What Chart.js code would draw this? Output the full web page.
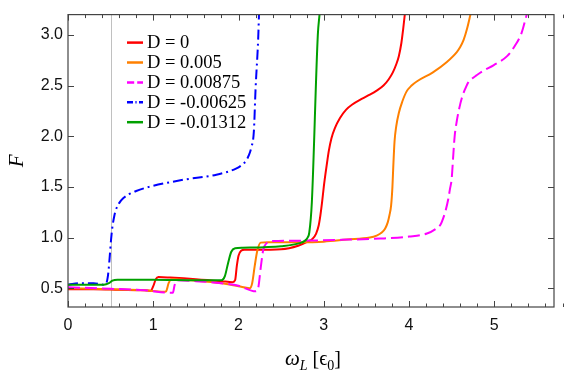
<!DOCTYPE html>
<html>
<head>
<meta charset="utf-8">
<script src="https://cdn.jsdelivr.net/npm/chart.js@4.4.1/dist/chart.umd.min.js"></script>
<style>
html,body{margin:0;padding:0;background:#fff;}
#wrap{width:564px;height:373px;position:relative;}
</style>
</head>
<body>
<div id="wrap"><canvas id="c" width="564" height="373"></canvas></div>
<script>
// ---- data ----
const seriesLabels = ["D = 0", "D = 0.005", "D = 0.00875", "D = -0.00625", "D = -0.01312"];

const redX = [0, 0.3, 0.6, 0.9, 0.97, 1.0, 1.03, 1.06, 1.2, 1.5, 1.8, 1.93, 1.96, 1.98, 2.0, 2.03, 2.07, 2.2, 2.5, 2.7, 2.81, 2.87, 2.91, 2.94, 2.96, 2.98, 3.0, 3.02, 3.04, 3.06, 3.09, 3.13, 3.19, 3.26, 3.33, 3.45, 3.54, 3.62, 3.70, 3.76, 3.81, 3.85, 3.88, 3.91, 3.93, 3.95];
const redY = [0.49, 0.49, 0.485, 0.48, 0.475, 0.52, 0.59, 0.61, 0.605, 0.59, 0.57, 0.56, 0.58, 0.72, 0.82, 0.87, 0.88, 0.88, 0.885, 0.92, 0.96, 0.99, 1.04, 1.12, 1.22, 1.35, 1.5, 1.63, 1.75, 1.86, 1.98, 2.08, 2.18, 2.26, 2.31, 2.37, 2.41, 2.45, 2.5, 2.56, 2.63, 2.71, 2.79, 2.92, 3.05, 3.2];

const orangeX = [0, 0.5, 0.9, 1.12, 1.15, 1.18, 1.21, 1.5, 1.8, 2.0, 2.13, 2.16, 2.19, 2.22, 2.26, 2.35, 2.7, 3.0, 3.27, 3.54, 3.62, 3.68, 3.72, 3.75, 3.77, 3.79, 3.805, 3.815, 3.83, 3.85, 3.88, 3.92, 3.97, 4.03, 4.09, 4.28, 4.44, 4.56, 4.60, 4.64, 4.68, 4.72];
const orangeY = [0.50, 0.49, 0.48, 0.465, 0.47, 0.55, 0.59, 0.575, 0.55, 0.52, 0.50, 0.55, 0.72, 0.87, 0.95, 0.955, 0.955, 0.96, 0.98, 1.0, 1.02, 1.05, 1.09, 1.15, 1.22, 1.32, 1.5, 1.7, 1.95, 2.1, 2.23, 2.34, 2.44, 2.5, 2.54, 2.63, 2.73, 2.83, 2.88, 2.95, 3.06, 3.2];

const magentaX = [0, 0.5, 0.9, 1.2, 1.23, 1.25, 1.28, 1.5, 1.8, 2.0, 2.2, 2.23, 2.26, 2.29, 2.33, 2.4, 2.8, 3.3, 3.66, 4.0, 4.21, 4.32, 4.37, 4.40, 4.43, 4.46, 4.48, 4.50, 4.52, 4.535, 4.56, 4.59, 4.62, 4.66, 4.70, 4.74, 4.79, 4.88, 4.99, 5.15, 5.24, 5.32, 5.38];
const magentaY = [0.51, 0.495, 0.48, 0.455, 0.455, 0.53, 0.58, 0.57, 0.55, 0.525, 0.47, 0.50, 0.70, 0.88, 0.945, 0.965, 0.97, 0.98, 0.99, 1.01, 1.04, 1.09, 1.13, 1.19, 1.27, 1.38, 1.48, 1.58, 1.83, 2.0, 2.15, 2.28, 2.38, 2.47, 2.54, 2.57, 2.6, 2.65, 2.7, 2.79, 2.89, 3.02, 3.2];

const blueX = [0, 0.15, 0.3, 0.42, 0.44, 0.46, 0.475, 0.49, 0.505, 0.52, 0.54, 0.56, 0.6, 0.65, 0.72, 0.8, 0.95, 1.35, 1.74, 1.97, 2.03, 2.09, 2.12, 2.15, 2.18, 2.20, 2.23, 2.24];
const blueY = [0.535, 0.55, 0.55, 0.535, 0.54, 0.58, 0.67, 0.82, 0.98, 1.10, 1.20, 1.27, 1.34, 1.39, 1.43, 1.46, 1.50, 1.57, 1.62, 1.68, 1.71, 1.76, 1.81, 1.89, 2.05, 2.47, 2.95, 3.2];

const greenX = [0, 0.2, 0.42, 0.48, 0.52, 0.58, 1.0, 1.5, 1.8, 1.84, 1.875, 1.915, 1.96, 2.05, 2.5, 2.72, 2.78, 2.81, 2.83, 2.86, 2.93, 2.95];
const greenY = [0.535, 0.535, 0.535, 0.55, 0.575, 0.585, 0.585, 0.58, 0.58, 0.62, 0.74, 0.86, 0.895, 0.9, 0.915, 0.945, 0.97, 1.0, 1.05, 1.35, 3.0, 3.2];

const xTickLabels = [0, 1, 2, 3, 4, 5];
const yTickLabels = [0.5, 1.0, 1.5, 2.0, 2.5, 3.0];
const xMinorStep = 0.2;
const xRange = [0, 5.7];
const yRange = [0.315, 3.2];
const markerLineX = 0.5;

const xTitleParts = ["ω", "L", "[", "ϵ", "0", "]"];
const yTitle = "F";

// ---- build datasets ----
function pts(xs, ys) { return xs.map((x, i) => ({x: x, y: ys[i]})); }
const styles = [
  {c: "#ff0000", dash: []},
  {c: "#ff8000", dash: []},
  {c: "#ff00ff", dash: [12, 5]},
  {c: "#0000ff", dash: [10, 4, 2, 4]},
  {c: "#00a000", dash: []}
];
const allData = [pts(redX, redY), pts(orangeX, orangeY), pts(magentaX, magentaY), pts(blueX, blueY), pts(greenX, greenY)];
const datasets = allData.map((d, i) => ({
  label: seriesLabels[i],
  data: d,
  borderColor: styles[i].c,
  backgroundColor: styles[i].c,
  borderDash: styles[i].dash,
  borderWidth: 2,
  pointRadius: 0,
  fill: false,
  cubicInterpolationMode: "monotone"
}));
const order = [4, 3, 2, 1, 0];
datasets.forEach((d, i) => { d.order = order[i]; });

const frameColor = "#444";

const decor = {
  id: "decor",
  beforeDatasetsDraw(chart) {
    const {ctx, chartArea: a, scales: {x}} = chart;
    ctx.save();
    ctx.strokeStyle = "#c0c0c0";
    ctx.lineWidth = 1;
    const px = Math.round(x.getPixelForValue(markerLineX)) + 0.5;
    ctx.beginPath(); ctx.moveTo(px, a.top); ctx.lineTo(px, a.bottom); ctx.stroke();
    ctx.restore();
  },
  afterDatasetsDraw(chart) {
    const {ctx, chartArea: a, scales: {x, y}} = chart;
    ctx.save();
    ctx.strokeStyle = frameColor;
    ctx.lineWidth = 1.2;
    ctx.strokeRect(a.left, a.top, a.right - a.left, a.bottom - a.top);
    ctx.lineWidth = 1;
    const nMinor = Math.round((xRange[1] - xRange[0]) / xMinorStep);
    for (let k = 0; k <= nMinor; k++) {
      const v = xRange[0] + k * xMinorStep;
      const major = xTickLabels.some(t => Math.abs(t - v) < 1e-6);
      const len = major ? 6 : 3.5;
      const p = Math.round(x.getPixelForValue(v)) + 0.5;
      ctx.beginPath();
      ctx.moveTo(p, a.bottom); ctx.lineTo(p, a.bottom - len);
      ctx.moveTo(p, a.top); ctx.lineTo(p, a.top + len);
      ctx.stroke();
    }
    yTickLabels.forEach(v => {
      const p = Math.round(y.getPixelForValue(v)) + 0.5;
      ctx.beginPath();
      ctx.moveTo(a.left, p); ctx.lineTo(a.left + 6, p);
      ctx.moveTo(a.right, p); ctx.lineTo(a.right - 6, p);
      ctx.stroke();
    });
    // legend
    const lx0 = a.left + 59, lx1 = a.left + 75, tx = a.left + 79;
    ctx.font = "18.5px 'Liberation Serif', 'Times New Roman', serif";
    ctx.textBaseline = "middle";
    ctx.textAlign = "left";
    chart.data.datasets.forEach((ds, i) => {
      const yy = a.top + 28 + i * 19.9;
      ctx.strokeStyle = ds.borderColor;
      ctx.lineWidth = 2.5;
      ctx.setLineDash(ds.borderDash && ds.borderDash.length ? ds.borderDash.map(v => v * 0.6) : []);
      ctx.beginPath(); ctx.moveTo(lx0, yy); ctx.lineTo(lx1, yy); ctx.stroke();
      ctx.setLineDash([]);
      ctx.fillStyle = "#000";
      ctx.fillText(ds.label, tx, yy + 1);
    });
    // x title with subscripts
    const big = "20px 'Liberation Serif', 'Times New Roman', serif";
    const bigI = "italic 21px 'Liberation Serif', 'Times New Roman', serif";
    const subI = "italic 14px 'Liberation Serif', 'Times New Roman', serif";
    const sub = "14px 'Liberation Serif', 'Times New Roman', serif";
    const pieces = [
      {t: xTitleParts[0], f: bigI, dy: 0},
      {t: xTitleParts[1], f: subI, dy: 5},
      {t: " ", f: big, dy: 0},
      {t: xTitleParts[2], f: big, dy: 0},
      {t: xTitleParts[3], f: big, dy: 0},
      {t: xTitleParts[4], f: sub, dy: 5},
      {t: xTitleParts[5], f: big, dy: 0}
    ];
    let total = 0;
    pieces.forEach(p => { ctx.font = p.f; p.w = ctx.measureText(p.t).width; total += p.w; });
    let cx = (a.left + a.right) / 2 - total / 2 + 2;
    const base = a.bottom + 58;
    ctx.textBaseline = "alphabetic";
    ctx.fillStyle = "#000";
    pieces.forEach(p => { ctx.font = p.f; ctx.fillText(p.t, cx, base + p.dy); cx += p.w; });
    // y title
    ctx.save();
    ctx.translate(a.left - 51, (a.top + a.bottom) / 2);
    ctx.rotate(-Math.PI / 2);
    ctx.font = "italic 21px 'Liberation Serif', 'Times New Roman', serif";
    ctx.textAlign = "center";
    ctx.textBaseline = "middle";
    ctx.fillText(yTitle, 0, 0);
    ctx.restore();
    ctx.restore();
  }
};

new Chart(document.getElementById("c"), {
  type: "line",
  data: {datasets: datasets},
  options: {
    responsive: false,
    animation: false,
    devicePixelRatio: 1,
    layout: {padding: {top: 7, right: 10, left: 0, bottom: 0}},
    plugins: {legend: {display: false}, tooltip: {enabled: false}},
    scales: {
      x: {
        type: "linear",
        min: xRange[0], max: xRange[1],
        grid: {display: false, drawTicks: false},
        border: {display: false},
        afterBuildTicks: s => { s.ticks = xTickLabels.map(v => ({value: v})); },
        afterFit: s => { s.height = 66; },
        ticks: {
          padding: 9,
          color: "#111",
          font: {family: "'Liberation Sans', Arial, sans-serif", size: 16},
          callback: v => String(v)
        }
      },
      y: {
        type: "linear",
        min: yRange[0], max: yRange[1],
        grid: {display: false, drawTicks: false},
        border: {display: false},
        afterBuildTicks: s => { s.ticks = yTickLabels.map(v => ({value: v})); },
        afterFit: s => { s.width = 68; },
        ticks: {
          padding: 5,
          color: "#111",
          font: {family: "'Liberation Sans', Arial, sans-serif", size: 16},
          callback: v => Number(v).toFixed(1)
        }
      }
    }
  },
  plugins: [decor]
});
</script>
</body>
</html>
